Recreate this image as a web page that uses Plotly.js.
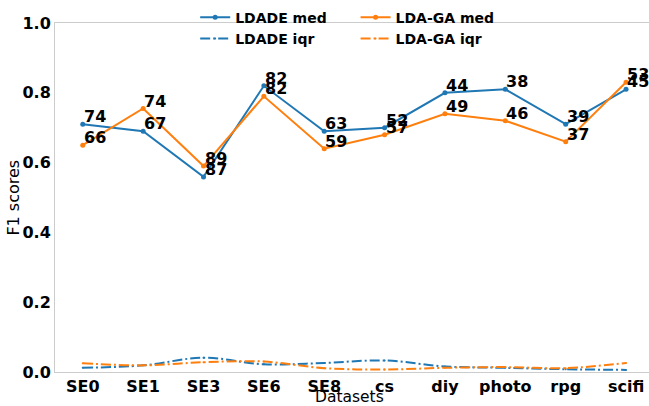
<!DOCTYPE html>
<html>
<head>
<meta charset="utf-8">
<script src="https://cdn.plot.ly/plotly-3.0.1.min.js"></script>
<style>html,body{margin:0;padding:0;background:#fff;}#chart{width:649px;height:406px;}</style>
</head>
<body>
<div id="chart"></div>
<script>
const datasets = ["SE0", "SE1", "SE3", "SE6", "SE8", "cs", "diy", "photo", "rpg", "scifi"];
const ldadeMed = [0.71, 0.69, 0.559, 0.82, 0.69, 0.70, 0.80, 0.81, 0.71, 0.81];
const ldagaMed = [0.65, 0.755, 0.59, 0.79, 0.64, 0.68, 0.74, 0.72, 0.66, 0.83];
const ldadeIqr = [0.012, 0.019, 0.041, 0.022, 0.026, 0.033, 0.016, 0.012, 0.008, 0.006];
const ldagaIqr = [0.025, 0.019, 0.028, 0.030, 0.011, 0.007, 0.012, 0.014, 0.011, 0.026];
const ldadeLabels = ["74", "67", "87", "82", "63", "52", "44", "38", "39", "45"];
const ldagaLabels = ["66", "74", "89", "82", "59", "57", "49", "46", "37", "53"];
const xTitle = "Datasets";
const yTitle = "F1 scores";

const BLUE = "#1f77b4", ORANGE = "#ff7f0e";
const FONT = "DejaVu Sans, sans-serif";

const traces = [
  {x: datasets, y: ldadeMed, name: "LDADE med", mode: "lines+markers", legend: "legend",
   line: {color: BLUE, width: 2}, marker: {color: BLUE, size: 5}},
  {x: datasets, y: ldagaMed, name: "LDA-GA med", mode: "lines+markers", legend: "legend2",
   line: {color: ORANGE, width: 2}, marker: {color: ORANGE, size: 5}},
  {x: datasets, y: ldadeIqr, name: "LDADE iqr", mode: "lines+markers", legend: "legend",
   line: {color: BLUE, width: 2, dash: "10px,3px,2px,3px", shape: "spline"}, marker: {color: BLUE, size: 2}},
  {x: datasets, y: ldagaIqr, name: "LDA-GA iqr", mode: "lines+markers", legend: "legend2",
   line: {color: ORANGE, width: 2, dash: "10px,3px,2px,3px", shape: "spline"}, marker: {color: ORANGE, size: 2}}
];

const annotations = [];
function addLabels(vals, labels) {
  vals.forEach((v, i) => {
    annotations.push({x: datasets[i], y: v, text: labels[i], showarrow: false,
      xanchor: "left", yanchor: "bottom", yshift: -4, xshift: -1,
      font: {family: FONT, size: 16, color: "#000", weight: "bold"}});
  });
}
addLabels(ldadeMed, ldadeLabels);
addLabels(ldagaMed, ldagaLabels);

// axis titles
annotations.push({xref: "paper", yref: "paper", x: 0.5, y: -0.071, xshift: -3,
  xanchor: "center", yanchor: "middle", showarrow: false, text: xTitle,
  font: {family: FONT, size: 15.5, color: "#000"}});
annotations.push({xref: "paper", yref: "paper", x: -0.0705, y: 0.5, textangle: -90,
  xanchor: "center", yanchor: "middle", showarrow: false, text: yTitle,
  font: {family: FONT, size: 16, color: "#000"}});

const legendCommon = {orientation: "v", yanchor: "top", y: 1.061, xanchor: "left",
  bgcolor: "rgba(0,0,0,0)", font: {family: FONT, size: 14, color: "#000", weight: "bold"},
  tracegroupgap: 0, itemwidth: 30};

const layout = {
  width: 649, height: 406,
  margin: {l: 55, r: 0, t: 23, b: 34},
  paper_bgcolor: "#fff", plot_bgcolor: "#fff",
  font: {family: FONT, color: "#000"},
  showlegend: true,
  legend: Object.assign({}, legendCommon, {x: 0.236}),
  legend2: Object.assign({}, legendCommon, {x: 0.506}),
  xaxis: {type: "category", range: [-0.46, 9.38], showgrid: false, zeroline: false,
    showline: true, mirror: true, linecolor: "#cccccc", linewidth: 1, automargin: false,
    tickfont: {family: FONT, size: 16, color: "#000", weight: "bold"}},
  yaxis: {range: [0, 1.0], tickvals: [0, 0.2, 0.4, 0.6, 0.8, 1.0], tickformat: ".1f",
    showgrid: false, zeroline: false, showline: true, linecolor: "#cccccc", linewidth: 1,
    automargin: false,
    tickfont: {family: FONT, size: 16, color: "#000", weight: "bold"}},
  annotations: annotations
};

Plotly.newPlot("chart", traces, layout, {displayModeBar: false, staticPlot: true});
</script>
</body>
</html>
